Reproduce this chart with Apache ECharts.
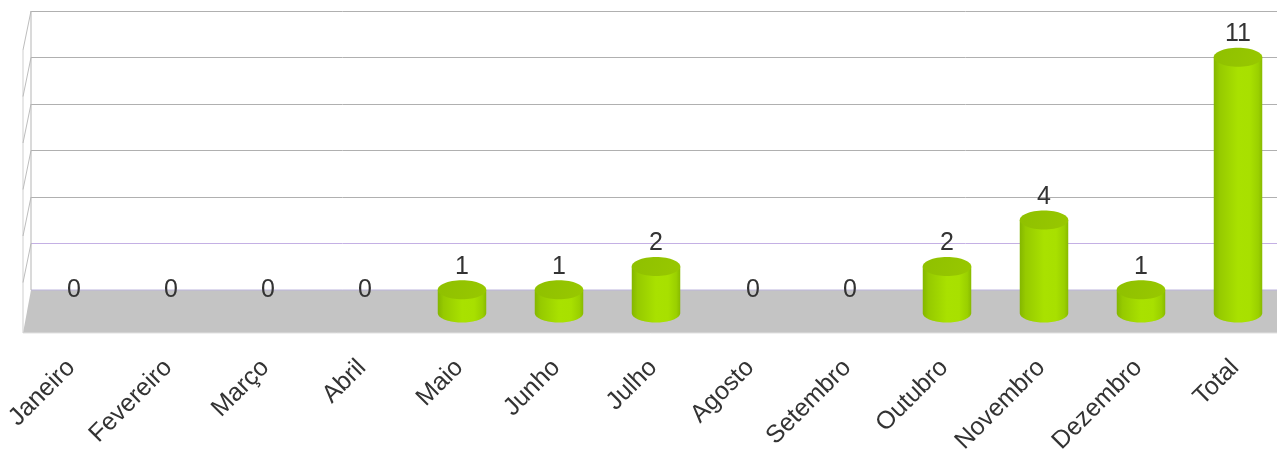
<!DOCTYPE html>
<html>
<head>
<meta charset="utf-8">
<script src="https://cdn.jsdelivr.net/npm/echarts@6/dist/echarts.min.js"></script>
<style>
  html, body { margin: 0; padding: 0; background: #ffffff; }
  #chart { width: 1277px; height: 452px; }
</style>
</head>
<body>
<div id="chart"></div>
<script>
// Monthly counts plus the yearly total
const categories = ['Janeiro', 'Fevereiro', 'Março', 'Abril', 'Maio', 'Junho', 'Julho',
  'Agosto', 'Setembro', 'Outubro', 'Novembro', 'Dezembro', 'Total'];
const values = [0, 0, 0, 0, 1, 1, 2, 0, 0, 2, 4, 1, 11];
const yTicks = [0, 2, 4, 6, 8, 10, 12];

const FONT = '"Liberation Sans", Arial, sans-serif';
// pseudo-3D depth of the floor (front edge relative to back wall)
const DEPTH_X = -8;
const DEPTH_Y = 43;

const chart = echarts.init(document.getElementById('chart'), null, { renderer: 'canvas' });

// ellipse outline as polygon points
function ellipsePts(cx, cy, rx, ry, t0, t1, n) {
  const pts = [];
  for (let k = 0; k <= n; k++) {
    const t = t0 + (t1 - t0) * k / n;
    pts.push([cx + rx * Math.cos(t), cy + ry * Math.sin(t)]);
  }
  return pts;
}

// back wall + floor + left side wall
function renderRoom(params, api) {
  const cs = params.coordSys;
  const children = [];
  const x0 = cs.x, x1 = cs.x + cs.width;
  const yFloor = cs.y + cs.height;
  // floor
  children.push({
    type: 'polygon',
    shape: { points: [[x0, yFloor], [x1 + 20, yFloor], [x1 + 20, yFloor + DEPTH_Y], [x0 + DEPTH_X, yFloor + DEPTH_Y]] },
    style: { fill: '#c4c4c4' }
  });
  children.push({
    type: 'line',
    shape: { x1: x0, y1: yFloor, x2: x1 + 20, y2: yFloor },
    style: { stroke: '#bcb4dc', lineWidth: 1 }
  });
  children.push({
    type: 'line',
    shape: { x1: x0 + DEPTH_X, y1: yFloor + DEPTH_Y, x2: x1 + 20, y2: yFloor + DEPTH_Y },
    style: { stroke: '#e2e2e2', lineWidth: 1 }
  });
  // left wall edges
  const yTop = api.coord([0, yTicks[yTicks.length - 1]])[1];
  children.push({
    type: 'line',
    shape: { x1: x0 + DEPTH_X, y1: yTop + DEPTH_Y - 4, x2: x0 + DEPTH_X, y2: yFloor + DEPTH_Y },
    style: { stroke: '#cfcfcf', lineWidth: 1 }
  });
  yTicks.forEach(function (t) {
    const y = api.coord([0, t])[1];
    if (t === 0) return;
    children.push({
      type: 'line',
      shape: { x1: x0, y1: y, x2: x0 + DEPTH_X, y2: y + DEPTH_Y - 4 },
      style: { stroke: '#bdbdbd', lineWidth: 1 }
    });
  });
  children.push({
    type: 'line',
    shape: { x1: x0, y1: yTop, x2: x0, y2: yFloor },
    style: { stroke: '#b5b5b5', lineWidth: 1 }
  });
  return { type: 'group', children: children };
}

// cylinder bars with value labels
function renderCylinder(params, api) {
  const i = api.value(0);
  const v = api.value(1);
  const top = api.coord([i, v]);
  const base = api.coord([i, 0]);
  const band = api.size([1, 0])[0];
  const rx = band * 0.25;
  const ry = 9.5;
  const cx = top[0];
  const children = [];
  if (v > 0) {
    const side = [[cx - rx, top[1]], [cx - rx, base[1]]]
      .concat(ellipsePts(cx, base[1], rx, ry, Math.PI, 0, 40))
      .concat([[cx + rx, top[1]]]);
    children.push({
      type: 'polygon',
      shape: { points: side },
      style: {
        fill: new echarts.graphic.LinearGradient(0, 0, 1, 0, [
          { offset: 0, color: '#84b600' },
          { offset: 0.12, color: '#96ca00' },
          { offset: 0.5, color: '#a9e100' },
          { offset: 0.75, color: '#a8e000' },
          { offset: 0.92, color: '#9ad000' },
          { offset: 1, color: '#88ba00' }
        ])
      }
    });
    children.push({
      type: 'polygon',
      shape: { points: ellipsePts(cx, top[1], rx, ry, 0, Math.PI * 2, 60) },
      style: {
        fill: new echarts.graphic.LinearGradient(0, 0, 1, 1, [
          { offset: 0, color: '#8fc000' },
          { offset: 1, color: '#98c800' }
        ])
      }
    });
  }
  children.push({
    type: 'text',
    style: {
      text: String(v),
      x: cx,
      y: top[1] - 23,
      align: 'center',
      verticalAlign: 'middle',
      fill: '#333333',
      font: '25px ' + FONT
    }
  });
  return { type: 'group', children: children };
}

chart.setOption({
  animation: false,
  backgroundColor: '#ffffff',
  grid: [
    // back wall
    { left: 31, right: 0, top: 11, bottom: 162, outerBoundsMode: 'none', containLabel: false },
    // bar plane at mid depth
    { left: 25.5, width: 1261, top: 34, bottom: 139, outerBoundsMode: 'none', containLabel: false }
  ],
  xAxis: [
    {
      gridIndex: 0, type: 'category', data: categories,
      axisLine: { show: false }, axisTick: { show: false }, axisLabel: { show: false }
    },
    {
      gridIndex: 1, type: 'category', data: categories,
      axisLine: { show: false }, axisTick: { show: false },
      axisLabel: {
        rotate: 45, margin: 48, interval: 0, padding: [0, 4, 0, 0],
        color: '#333333', fontSize: 25, fontFamily: FONT
      }
    }
  ],
  yAxis: [
    {
      gridIndex: 0, type: 'value', min: 0, max: 12, interval: 2,
      axisLine: { show: false }, axisTick: { show: false }, axisLabel: { show: false },
      splitLine: {
        lineStyle: { color: ['#bcb4dc', '#c4b0e4', '#b0b0b0', '#b0b0b0', '#b0b0b0', '#b0b0b0', '#b0b0b0'], width: 1 }
      }
    },
    {
      gridIndex: 1, type: 'value', min: 0, max: 12, interval: 2,
      axisLine: { show: false }, axisTick: { show: false }, axisLabel: { show: false },
      splitLine: { show: false }
    }
  ],
  series: [
    {
      type: 'custom',
      xAxisIndex: 0, yAxisIndex: 0,
      renderItem: renderRoom,
      data: [[0, 0]],
      z: 1,
      silent: true
    },
    {
      type: 'custom',
      xAxisIndex: 1, yAxisIndex: 1,
      renderItem: renderCylinder,
      data: values.map(function (v, i) { return [i, v]; }),
      z: 3,
      silent: true
    }
  ]
});
</script>
</body>
</html>
